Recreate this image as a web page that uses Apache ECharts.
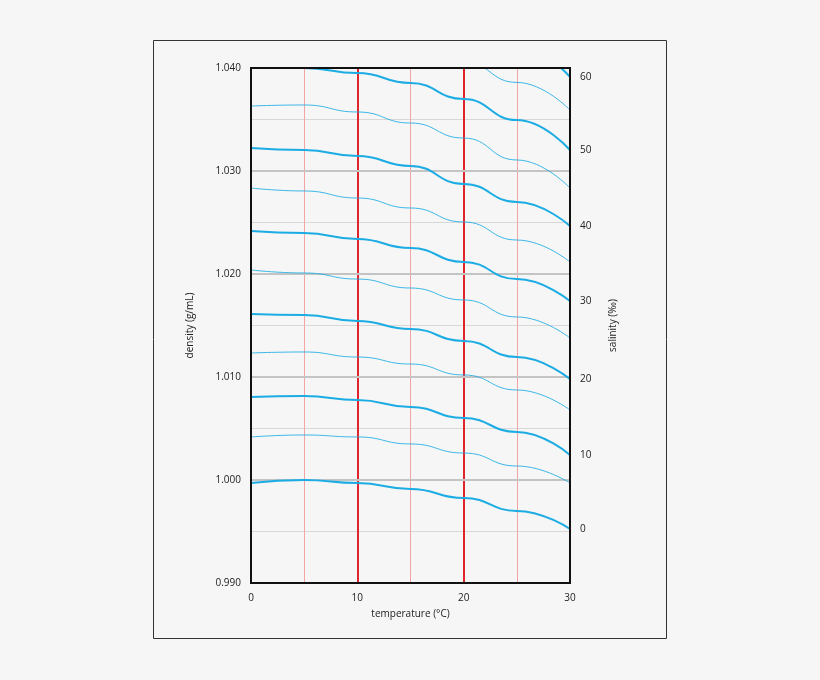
<!DOCTYPE html>
<html><head><meta charset="utf-8">
<script src="https://cdn.jsdelivr.net/npm/echarts@6/dist/echarts.min.js"></script>
<style>html,body{margin:0;background:#f6f6f6}#c{width:820px;height:680px}</style>
</head><body><div id="c"></div>
<script>
// temperatures (°C)
var temps = [0, 5, 10, 15, 20, 25, 30];
// salinity of each curve (‰) and density (g/mL)
var salinities = [0, 5, 10, 15, 20, 25, 30, 35, 40, 45, 50, 55, 60];
var densities = [
    [0.99971, 0.99999, 0.99970, 0.99913, 0.99825, 0.99700, 0.99524],
    [1.00418, 1.00437, 1.00418, 1.00350, 1.00262, 1.00136, 0.99971],
    [1.00806, 1.00816, 1.00777, 1.00709, 1.00602, 1.00466, 1.00243],
    [1.01233, 1.01243, 1.01194, 1.01126, 1.01020, 1.00874, 1.00680],
    [1.01612, 1.01602, 1.01544, 1.01466, 1.01350, 1.01194, 1.00980],
    [1.02039, 1.02010, 1.01951, 1.01864, 1.01748, 1.01583, 1.01379],
    [1.02417, 1.02398, 1.02340, 1.02252, 1.02117, 1.01951, 1.01738],
    [1.02835, 1.02806, 1.02738, 1.02641, 1.02505, 1.02330, 1.02117],
    [1.03223, 1.03204, 1.03146, 1.03049, 1.02874, 1.02699, 1.02466],
    [1.03631, 1.03641, 1.03573, 1.03466, 1.03320, 1.03107, 1.02835],
    [1.04040, 1.04000, 1.03951, 1.03854, 1.03699, 1.03495, 1.03204],
    [1.04440, 1.04380, 1.04300, 1.04180, 1.04060, 1.03860, 1.03592],
    [1.04850, 1.04800, 1.04700, 1.04600, 1.04450, 1.04210, 1.03913]
];
var boldTemps = [10, 20];
var boldDensities = [1.000, 1.010, 1.020, 1.030];

var blue = '#1cace4';
var series = salinities.map(function (s, i) {
    var bold = s % 10 === 0;
    return {
        type: 'line', smooth: 0.5, smoothMonotone: 'x', symbol: 'none', clip: true,
        data: temps.map(function (t, j) { return [t, densities[i][j]]; }),
        lineStyle: { color: blue, width: bold ? 2 : 1, opacity: bold ? 1 : 0.85 },
        endLabel: { show: bold, formatter: String(s), color: '#222', fontSize: 10, distance: 10 },
        z: 5
    };
});
series.push({
    type: 'line', data: [], z: 3,
    markLine: {
        silent: true, symbol: 'none', label: { show: false },
        data: boldTemps.map(function (t) {
            return { xAxis: t, lineStyle: { color: '#e0242c', width: 2, type: 'solid' } };
        }).concat(boldDensities.map(function (d) {
            return { yAxis: d, lineStyle: { color: '#c4c4c4', width: 2, type: 'solid' } };
        }))
    }
});

var chart = echarts.init(document.getElementById('c'));
chart.setOption({
    backgroundColor: '#f6f6f6',
    textStyle: { fontFamily: 'Open Sans' },
    animation: false,
    graphic: [{
        type: 'rect', z: 1, shape: { x: 153.5, y: 40.5, width: 513, height: 598 },
        style: { fill: 'none', stroke: '#333', lineWidth: 1 }
    }, {
        type: 'rect', z: 100, shape: { x: 251, y: 68, width: 319, height: 515 },
        style: { fill: 'none', stroke: '#111', lineWidth: 2 }
    }],
    grid: { left: 251, right: 250, top: 68, bottom: 97 },
    xAxis: {
        type: 'value', min: 0, max: 30, interval: 5,
        name: 'temperature (°C)', nameLocation: 'middle', nameGap: 26,
        nameTextStyle: { fontSize: 10, color: '#222' },
        axisLine: { show: false }, axisTick: { show: false },
        axisLabel: { fontSize: 10, color: '#222', margin: 10, formatter: function (v) { return v % 10 === 0 ? v : ''; } },
        splitLine: { showMinLine: false, showMaxLine: false, lineStyle: { color: '#f2a3a3', width: 1 } }
    },
    yAxis: [{
        type: 'value', min: 0.990, max: 1.040, interval: 0.005,
        name: 'density (g/mL)', nameLocation: 'middle', nameGap: 56,
        nameTextStyle: { fontSize: 10, color: '#222' },
        axisLine: { show: false }, axisTick: { show: false },
        axisLabel: { fontSize: 10, color: '#222', margin: 10, formatter: function (v) {
            var r = Math.round(v * 1000);
            return r % 10 === 0 ? (r / 1000).toFixed(3) : '';
        } },
        splitLine: { showMinLine: false, showMaxLine: false, lineStyle: { color: '#d8d8d8', width: 1 } }
    }, {
        type: 'value', min: 0.990, max: 1.040, position: 'right',
        name: 'salinity (‰)', nameLocation: 'middle', nameGap: 38, nameRotate: 90,
        nameTextStyle: { fontSize: 10, color: '#222' },
        axisLine: { show: false }, axisTick: { show: false },
        axisLabel: { show: false }, splitLine: { show: false }
    }],
    series: series
});
</script></body></html>
